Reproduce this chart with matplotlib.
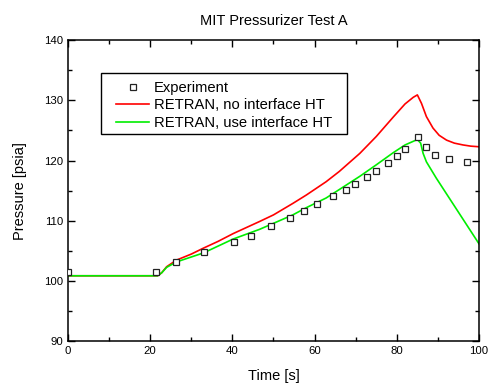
import matplotlib
matplotlib.use("Agg")
import matplotlib.pyplot as plt
from matplotlib.patches import Rectangle
from matplotlib.ticker import MultipleLocator

plt.rcParams['font.family'] = ['Liberation Sans', 'DejaVu Sans']

t_exp = [0.0, 21.5, 26.4, 33.0, 40.4, 44.5, 49.4, 53.9, 57.3, 60.7, 64.4,
         67.6, 69.9, 72.7, 74.9, 77.9, 80.0, 81.9, 85.2, 87.0, 89.2, 92.7, 97.0]
p_exp = [101.5, 101.5, 103.2, 104.9, 106.5, 107.5, 109.1, 110.5, 111.6, 112.8, 114.1,
         115.2, 116.2, 117.3, 118.2, 119.6, 120.7, 121.9, 123.9, 122.2, 121.0, 120.2, 119.7]

# RETRAN sans transfert thermique a l'interface
t_no = [0.0, 21.8, 22.8, 24.0, 26.4, 30.0, 33.0, 36.5, 40.2, 46.6, 50.0, 54.7, 58.0,
        62.8, 66.0, 71.0, 75.0, 79.1, 82.0, 84.0, 85.0, 86.0, 87.2, 88.8, 90.3,
        92.1, 94.0, 96.1, 98.0, 100.0]
p_no = [100.9, 100.9, 101.4, 102.4, 103.5, 104.5, 105.5, 106.6, 107.9, 109.9, 111.0, 112.9, 114.3,
        116.5, 118.2, 121.2, 124.0, 127.2, 129.4, 130.5, 130.9, 129.5, 127.3, 125.4, 124.2,
        123.4, 122.9, 122.6, 122.4, 122.3]

# RETRAN avec transfert thermique a l'interface
t_use = [0.0, 21.8, 22.8, 24.0, 26.4, 33.0, 40.2, 46.6, 50.0, 54.7, 58.0, 62.8, 66.0,
         71.0, 75.0, 79.1, 82.0, 85.0, 85.8, 86.4, 87.2, 89.6, 100.0]
p_use = [100.9, 100.9, 101.4, 102.3, 103.2, 104.7, 107.0, 108.6, 109.6, 111.0, 112.2, 113.8, 115.2,
         117.4, 119.3, 121.3, 122.6, 123.5, 122.9, 121.2, 119.8, 117.1, 106.2]

fig = plt.figure(figsize=(4.88, 3.85), dpi=100)
ax = fig.add_axes([0.1393, 0.113, 0.8423, 0.783])

ax.plot(t_exp, p_exp, 's', ms=4.8, mfc='white', mec='#222222', mew=0.9,
        label='Experiment', zorder=3)
ax.plot(t_no, p_no, color='#ff0000', lw=1.2, label='RETRAN, no interface HT')
ax.plot(t_use, p_use, color='#00ee00', lw=1.2, label='RETRAN, use interface HT')

ax.set_xlim(0, 100)
ax.set_ylim(90, 140)
ax.xaxis.set_major_locator(MultipleLocator(20))
ax.xaxis.set_minor_locator(MultipleLocator(10))
ax.yaxis.set_major_locator(MultipleLocator(10))
ax.yaxis.set_minor_locator(MultipleLocator(5))
ax.tick_params(which='both', direction='in', top=True, right=True, labelsize=8.2,
               width=1)
ax.tick_params(which='major', length=5)
ax.tick_params(which='minor', length=3)
for s in ax.spines.values():
    s.set_linewidth(1.1)

ax.set_title('MIT Pressurizer Test A', fontsize=10.5, pad=11)
ax.set_xlabel('Time [s]', fontsize=10.5, labelpad=9)
ax.set_ylabel('Pressure [psia]', fontsize=10.5, labelpad=12)

# legende sans cadre + cadre dessine a part (marges differentes en x et y)
leg = ax.legend(loc='upper left', bbox_to_anchor=(0.118, 0.864), borderaxespad=0,
                fontsize=10.6, frameon=False, handlelength=2.2,
                handletextpad=0.35, labelspacing=0.23, borderpad=0)
ax.add_patch(Rectangle((0.08, 0.687), 0.599, 0.205, transform=ax.transAxes,
                       fill=False, edgecolor='black', lw=1.0, zorder=5))

fig.savefig('out.png', dpi=100)
